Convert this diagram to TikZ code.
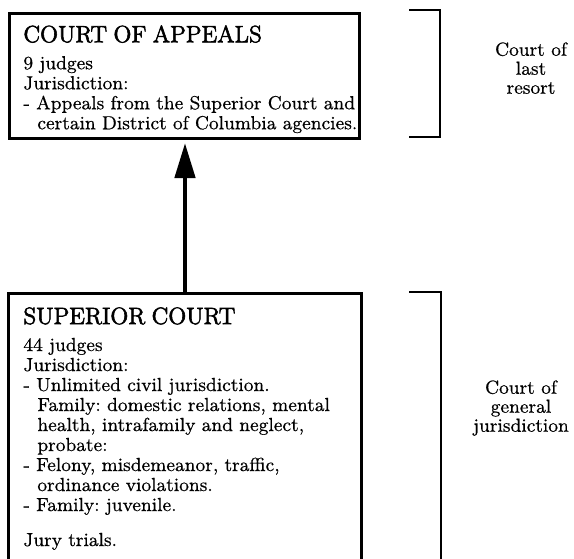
\documentclass[tikz,border=0pt]{standalone}
\usepackage{fontspec}
\setmainfont{Latin Modern Roman}[FakeBold=0.5]
\newfontfamily\headfont{Latin Modern Roman}[FakeBold=2.4]
\usetikzlibrary{arrows.meta}
\newcommand{\bodysize}{\fontsize{9.45}{10}\selectfont\frenchspacing}
\newcommand{\headsize}{\headfont\fontsize{11.8}{13}\selectfont}
\tikzset{
  courtbox/.style={draw, rectangle, line width=1.5pt, inner sep=0pt, anchor=north west},
  courttext/.style={anchor=north west, inner sep=0pt, text width=170pt, align=left, font=\bodysize},
  levellabel/.style={anchor=north, inner sep=0pt, align=center, font=\fontsize{9.45}{9.5}\selectfont},
  bracketline/.style={line width=1pt, line join=miter}
}
\begin{document}
\begin{tikzpicture}[x=0.5pt, y=-0.5pt, line cap=butt, >={Triangle[length=17.5pt,width=10pt]}]
  \useasboundingbox (0,0) rectangle (574,558);
  \clip (0,0) rectangle (574,558);
  % the two courts
  \node[courtbox, minimum width=175pt, minimum height=62.5pt] (appeals) at (8,12) {};
  \node[courtbox, minimum width=176.5pt, minimum height=160pt] (superior) at (7,292) {};
  \node[courttext] (appealstxt) at (23,25) {%
    {\headsize COURT OF APPEALS}\\[3.5pt]
    9 judges\\
    Jurisdiction:\\
    - Appeals from the Superior Court and\\
    \hspace*{7pt}certain District of Columbia agencies.};
  \node[courttext] (superiortxt) at (23,307) {%
    {\headsize SUPERIOR COURT}\\[3.5pt]
    44 judges\\
    Jurisdiction:\\
    - Unlimited civil jurisdiction.\\
    \hspace*{7pt}Family: domestic relations, mental\\
    \hspace*{7pt}health, intrafamily and neglect,\\
    \hspace*{7pt}probate:\\
    - Felony, misdemeanor, traffic,\\
    \hspace*{7pt}ordinance violations.\\
    - Family: juvenile.\\[7.5pt]
    Jury trials.};
  % appeal route
  \coordinate (ax) at (185,0);
  \draw[->, line width=2.3pt, shorten >=1.5pt] (ax |- superior.north) -- (ax |- appeals.south);
  % brackets and their labels
  \draw[bracketline] (409,10) -- (440,10) -- (440,137) -- (409,137);
  \draw[bracketline] (409,292) -- (441,292) -- (441,570);
  \node[levellabel] (lastresort) at (531,42) {Court of\\last\\resort};
  \node[levellabel] (generaljur) at (521,380) {Court of\\general\\jurisdiction};
\end{tikzpicture}
\end{document}
